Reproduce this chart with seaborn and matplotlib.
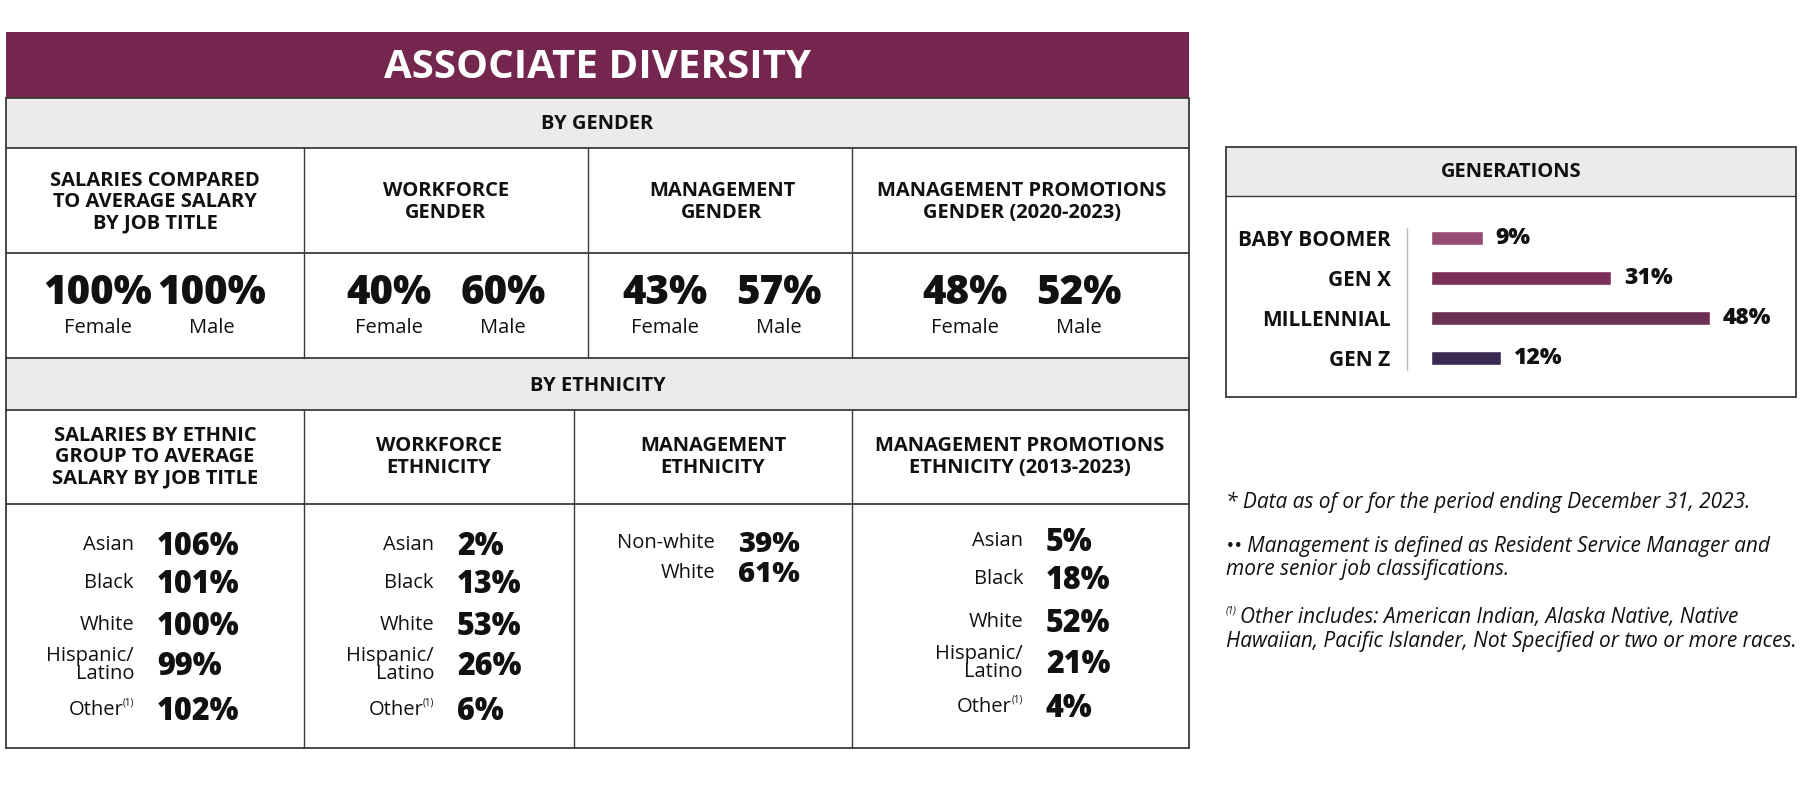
import numpy as np
import pandas as pd
import seaborn as sns
import matplotlib.pyplot as plt
from matplotlib.patches import Rectangle

# ---- data ----
title = "ASSOCIATE DIVERSITY"
gender_headers = ["SALARIES COMPARED\nTO AVERAGE SALARY\nBY JOB TITLE", "WORKFORCE\nGENDER",
                  "MANAGEMENT\nGENDER", "MANAGEMENT PROMOTIONS\nGENDER (2020-2023)"]
gender_female = [100, 40, 43, 48]
gender_male = [100, 60, 57, 52]

eth_headers = ["SALARIES BY ETHNIC\nGROUP TO AVERAGE\nSALARY BY JOB TITLE", "WORKFORCE\nETHNICITY",
               "MANAGEMENT\nETHNICITY", "MANAGEMENT PROMOTIONS\nETHNICITY (2013-2023)"]
eth_groups = ["Asian", "Black", "White", "Hispanic/\nLatino", "Other"]
eth_salary = [106, 101, 100, 99, 102]
eth_workforce = [2, 13, 53, 26, 6]
mgmt_groups = ["Non-white", "White"]
mgmt_eth = [39, 61]
eth_promo = [5, 18, 52, 21, 4]

gen_labels = ["BABY BOOMER", "GEN X", "MILLENNIAL", "GEN Z"]
gen_values = [9, 31, 48, 12]
gen_colors = ["#A33F72", "#8A2357", "#772653", "#3A2459"]

notes = [
    "* Data as of or for the period ending December 31, 2023.",
    "\u2022\u2022 Management is defined as Resident Service Manager and\nmore senior job classifications.",
    "Other includes: American Indian, Alaska Native, Native",
    "Hawaiian, Pacific Islander, Not Specified or two or more races.",
]

# ---- style ----
sns.set_theme(style="white")
plt.rcParams['font.family'] = ['Open Sans', 'DejaVu Sans']
PURPLE = "#74264F"
GREY = "#EBEBEB"
LINE = "#3a3a3a"
INK = "#111111"
HDR = 14.5     # header / label size
SMALL = 14.5

W, H = 1805, 798
fig = plt.figure(figsize=(W / 100, H / 100), dpi=100)
ax = fig.add_axes([0, 0, 1, 1])
ax.set_xlim(0, W)
ax.set_ylim(H, 0)
ax.axis("off")

L, R = 6, 1189
# bands
ax.add_patch(Rectangle((L, 32), R - L, 66, color=PURPLE, lw=0))
ax.add_patch(Rectangle((L, 98), R - L, 50, color=GREY, lw=0))
ax.add_patch(Rectangle((L, 358), R - L, 52, color=GREY, lw=0))
ax.text((L + R) / 2, 67, title, ha="center", va="center", color="white",
        fontsize=29, fontweight="bold")
ax.text((L + R) / 2, 124, "BY GENDER", ha="center", va="center", fontsize=HDR,
        fontweight="bold", color=INK)
ax.text((L + R) / 2, 386, "BY ETHNICITY", ha="center", va="center", fontsize=HDR,
        fontweight="bold", color=INK)

# grid lines
for y in [98, 148, 253, 358, 410, 504, 748]:
    ax.plot([L, R], [y, y], color=LINE, lw=1.3)
ax.plot([L, L], [98, 748], color=LINE, lw=1.3)
ax.plot([R, R], [98, 748], color=LINE, lw=1.3)
g_edges = [L, 304, 588, 852, R]
e_edges = [L, 304, 574, 852, R]
for x in g_edges[1:-1]:
    ax.plot([x, x], [148, 358], color=LINE, lw=1.0)
for x in e_edges[1:-1]:
    ax.plot([x, x], [410, 748], color=LINE, lw=1.0)

# gender section
g_centers = [155, 446, 722, 1022]
for i, hdr in enumerate(gender_headers):
    cx = g_centers[i]
    ax.text(cx, 202, hdr, ha="center", va="center", fontsize=HDR, fontweight="bold",
            color=INK, linespacing=1.08)
    for val, lab, dx in [(gender_female[i], "Female", -57), (gender_male[i], "Male", 57)]:
        ax.text(cx + dx, 294, f"{val}%", ha="center", va="center", fontsize=29,
                fontweight="heavy", color=INK)
        ax.text(cx + dx, 328, lab, ha="center", va="center", fontsize=SMALL, color=INK)

# ethnicity section
e_centers = [155, 439, 713, 1020]
for i, hdr in enumerate(eth_headers):
    ax.text(e_centers[i], 457, hdr, ha="center", va="center", fontsize=HDR,
            fontweight="bold", color=INK, linespacing=1.08)


def eth_column(xr, rows_y, groups, values, size=22):
    for y, g, v in zip(rows_y, groups, values):
        if g == "Other":
            ax.text(xr - 11, y, g, ha="right", va="center", fontsize=SMALL, color=INK)
            ax.text(xr, y - 7, "(1)", ha="right", va="center", fontsize=7, color=INK)
        else:
            ax.text(xr, y, g, ha="right", va="center", fontsize=SMALL, color=INK,
                    multialignment="right", linespacing=0.86)
        ax.text(xr + 23, y + 2, f"{v}%", ha="left", va="center", fontsize=size,
                fontweight="heavy", color=INK)


rows_a = [545, 583, 625, 665, 710]
rows_b = [541, 579, 622, 663, 707]
eth_column(134, rows_a, eth_groups, eth_salary)
eth_column(434, rows_a, eth_groups, eth_workforce)
eth_column(715, [543, 573], mgmt_groups, mgmt_eth, size=21)
eth_column(1023, rows_b, eth_groups, eth_promo)

# generations box
GX0, GX1, GY0, GY1 = 1226, 1796, 147, 397
ax.add_patch(Rectangle((GX0, GY0), GX1 - GX0, 49, color=GREY, lw=0))
ax.add_patch(Rectangle((GX0, GY0), GX1 - GX0, GY1 - GY0, fill=False, ec=LINE, lw=1.3))
ax.plot([GX0, GX1], [196, 196], color=LINE, lw=1.0)
ax.text((GX0 + GX1) / 2, 172, "GENERATIONS", ha="center", va="center", fontsize=HDR,
        fontweight="bold", color=INK)

gen = pd.DataFrame({"gen": gen_labels, "pct": gen_values})
bx0, bx1, by0, by1 = 1431, 1780, 218, 378
bax = fig.add_axes([bx0 / W, 1 - by1 / H, (bx1 - bx0) / W, (by1 - by0) / H])
sns.barplot(data=gen, x="pct", y="gen", hue="gen", palette=gen_colors, legend=False,
            width=0.36, ax=bax, orient="h")
bax.set_xlim(0, 60)
bax.set_facecolor("none")
bax.set_xlabel("")
bax.set_ylabel("")
bax.set_xticks([])
for s in ["top", "right", "bottom"]:
    bax.spines[s].set_visible(False)
bax.spines["left"].set_position(("outward", 17))
bax.spines["left"].set_color("#bbbbbb")
bax.spines["left"].set_linewidth(1.0)
bax.spines["left"].set_bounds(-0.25, 3.3)
bax.tick_params(axis="y", length=0, pad=12)
for t in bax.get_yticklabels():
    t.set_fontsize(15)
    t.set_fontweight("bold")
    t.set_color(INK)
for c in bax.containers:
    bax.bar_label(c, labels=[f"{v:.0f}%" for v in c.datavalues], padding=9,
                  fontsize=16.5, fontweight="heavy", color=INK)

# notes
NOTE = 15
ax.text(1226, 502, notes[0], ha="left", va="center", fontsize=NOTE, style="italic",
        color=INK)
ax.text(1226, 558, notes[1], ha="left", va="center", fontsize=NOTE, style="italic",
        color=INK, linespacing=1.15)
ax.text(1226, 611, "(1)", ha="left", va="center", fontsize=7, style="italic", color=INK)
ax.text(1240, 617, notes[2], ha="left", va="center", fontsize=NOTE, style="italic", color=INK)
ax.text(1226, 641, notes[3], ha="left", va="center", fontsize=NOTE, style="italic", color=INK)

fig.savefig("out.png", dpi=100)
